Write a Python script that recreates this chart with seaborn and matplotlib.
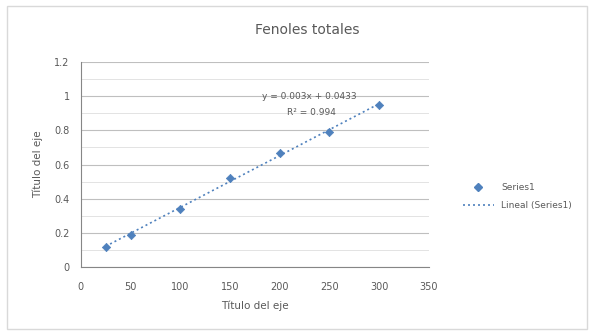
import numpy as np
import pandas as pd
import matplotlib
matplotlib.use("Agg")
import matplotlib.pyplot as plt
import seaborn as sns
from matplotlib.lines import Line2D
from matplotlib.patches import Rectangle

# data
concentracion = [25, 50, 100, 150, 200, 250, 300]
absorbancia = [0.12, 0.19, 0.34, 0.52, 0.67, 0.79, 0.95]
x_ticks = [0, 50, 100, 150, 200, 250, 300, 350]
y_ticks = [0, 0.2, 0.4, 0.6, 0.8, 1, 1.2]
y_tick_labels = ["0", "0.2", "0.4", "0.6", "0.8", "1", "1.2"]

df = pd.DataFrame({"x": concentracion, "y": absorbancia})

sns.set_style("white")
plt.rcParams["font.family"] = ["DejaVu Sans"]
txt = "#595959"
blue = "#4F81BD"

fig = plt.figure(figsize=(5.94, 3.33), dpi=100)
fig.patches.append(Rectangle((0.012, 0.012), 0.976, 0.97, transform=fig.transFigure,
                             fill=False, edgecolor="#D9D9D9", lw=1))
ax = fig.add_axes([0.136, 0.198, 0.586, 0.616])

# trendline (linear fit) + points
sns.regplot(data=df, x="x", y="y", scatter=False, ci=None, ax=ax,
            line_kws=dict(color=blue, ls=(0, (1.2, 1.8)), lw=1.2))
sns.scatterplot(data=df, x="x", y="y", ax=ax, marker="D", s=18,
                color=blue, edgecolor=blue, linewidth=0.5, zorder=3)

ax.set_xlim(0, 350)
ax.set_ylim(0, 1.2)
ax.set_xticks(x_ticks)
ax.set_yticks(y_ticks)
ax.set_yticklabels(y_tick_labels)
ax.set_yticks(np.arange(0.1, 1.2, 0.2), minor=True)
ax.grid(axis="y", which="major", color="#BFBFBF", lw=0.8)
ax.grid(axis="y", which="minor", color="#E3E3E3", lw=0.7)
ax.set_axisbelow(True)
for s in ["top", "right"]:
    ax.spines[s].set_visible(False)
ax.spines["left"].set_color("#868686")
ax.spines["bottom"].set_color("#868686")
ax.tick_params(axis="both", labelsize=7, colors=txt, length=0, pad=8)
ax.tick_params(axis="x", length=3, direction="out", color="#868686", pad=8)
ax.set_xlabel("Título del eje", fontsize=7.5, color=txt, labelpad=6)
ax.set_ylabel("Título del eje", fontsize=7.5, color=txt, labelpad=8)

fig.text(0.517, 0.91, "Fenoles totales", ha="center", va="center", fontsize=10, color=txt)
ax.text(230, 1.0, "y = 0.003x + 0.0433", fontsize=6.5, color=txt, ha="center", va="center")
ax.text(232, 0.905, "R² = 0.994", fontsize=6.5, color=txt, ha="center", va="center")

handles = [
    Line2D([], [], marker="D", ls="none", color=blue, markersize=4),
    Line2D([], [], color=blue, ls=(0, (1.2, 1.8)), lw=1.2),
]
fig.legend(handles, ["Series1", "Lineal (Series1)"], loc="center left",
           bbox_to_anchor=(0.765, 0.41), frameon=False, fontsize=6.5,
           labelcolor=txt, handlelength=3.5, labelspacing=1.0)

fig.savefig("out.png", dpi=100)
